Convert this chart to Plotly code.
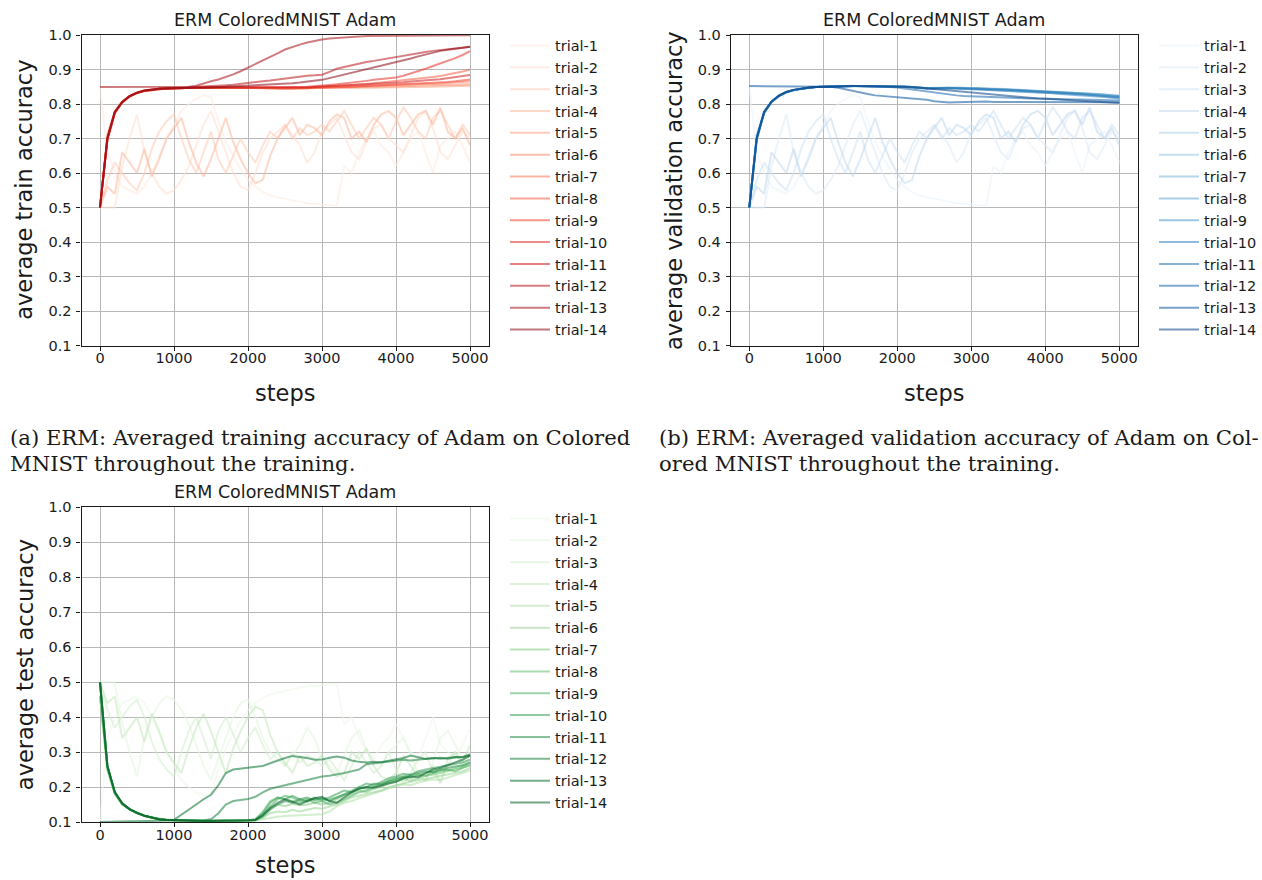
import plotly.graph_objects as go

W, H = 1262, 880

steps = list(range(0, 5001, 100))
trial_names = [f"trial-{i}" for i in range(1, 15)]
x_ticks = [0, 1000, 2000, 3000, 4000, 5000]
y_ticks = [0.1, 0.2, 0.3, 0.4, 0.5, 0.6, 0.7, 0.8, 0.9, 1.0]
y_ticktext = ["0.1", "0.2", "0.3", "0.4", "0.5", "0.6", "0.7", "0.8", "0.9", "1.0"]

# ---------------- train accuracy per trial (evaluated every 100 steps) ----------------
train_t01 = [0.85, 0.66, 0.60, 0.56, 0.55, 0.54, 0.56, 0.60, 0.65, 0.70, 0.74,
             0.78, 0.80, 0.815, 0.825, 0.82, 0.75, 0.69, 0.65, 0.61, 0.58,
             0.56, 0.545, 0.535, 0.53, 0.525, 0.52, 0.515, 0.512, 0.51, 0.508,
             0.506, 0.505, 0.62, 0.60, 0.66, 0.70, 0.72, 0.68, 0.66, 0.62,
             0.66, 0.70, 0.72, 0.66, 0.60, 0.68, 0.70, 0.72, 0.68, 0.63]
train_t02 = [0.50, 0.50, 0.50, 0.62, 0.70, 0.77, 0.66, 0.60, 0.56, 0.54, 0.55,
             0.58, 0.62, 0.68, 0.74, 0.78, 0.72, 0.66, 0.60, 0.56, 0.55,
             0.60, 0.66, 0.70, 0.72, 0.74, 0.71, 0.68, 0.63, 0.66, 0.72,
             0.74, 0.76, 0.71, 0.66, 0.64, 0.69, 0.73, 0.74, 0.70, 0.68,
             0.66, 0.71, 0.76, 0.78, 0.73, 0.66, 0.64, 0.68, 0.72, 0.70]
train_t03 = [0.50, 0.58, 0.63, 0.60, 0.57, 0.55, 0.60, 0.67, 0.72, 0.75, 0.77,
             0.70, 0.64, 0.60, 0.66, 0.72, 0.64, 0.60, 0.65, 0.70, 0.66,
             0.63, 0.68, 0.72, 0.70, 0.74, 0.70, 0.73, 0.71, 0.72, 0.74,
             0.72, 0.75, 0.78, 0.74, 0.70, 0.73, 0.76, 0.74, 0.70, 0.75,
             0.79, 0.76, 0.72, 0.70, 0.76, 0.78, 0.74, 0.70, 0.74, 0.71]
train_t04 = [0.50, 0.56, 0.54, 0.66, 0.63, 0.60, 0.67, 0.59, 0.64, 0.70, 0.73,
             0.76, 0.69, 0.63, 0.59, 0.64, 0.70, 0.76, 0.69, 0.64, 0.60,
             0.57, 0.58, 0.65, 0.70, 0.73, 0.76, 0.71, 0.74, 0.73, 0.71,
             0.75, 0.77, 0.76, 0.70, 0.72, 0.69, 0.74, 0.77, 0.78, 0.76,
             0.71, 0.74, 0.77, 0.78, 0.74, 0.79, 0.72, 0.70, 0.73, 0.68]
train_t05 = [0.50, 0.70, 0.775, 0.805, 0.822, 0.832, 0.838, 0.841, 0.843, 0.845, 0.846,
             0.847, 0.847, 0.847, 0.847, 0.847, 0.847, 0.847, 0.847, 0.847, 0.847,
             0.847, 0.846, 0.846, 0.845, 0.845, 0.845, 0.845, 0.846, 0.846, 0.846,
             0.846, 0.846, 0.846, 0.847, 0.847, 0.847, 0.847, 0.848, 0.848, 0.848,
             0.849, 0.849, 0.849, 0.850, 0.850, 0.851, 0.851, 0.852, 0.852, 0.853]
train_t06 = [0.50, 0.69, 0.772, 0.804, 0.821, 0.831, 0.837, 0.841, 0.843, 0.845, 0.846,
             0.847, 0.847, 0.848, 0.848, 0.848, 0.847, 0.847, 0.847, 0.848, 0.847,
             0.847, 0.846, 0.845, 0.845, 0.844, 0.844, 0.845, 0.846, 0.846, 0.847,
             0.847, 0.848, 0.848, 0.849, 0.849, 0.850, 0.850, 0.851, 0.851, 0.852,
             0.852, 0.853, 0.853, 0.854, 0.854, 0.855, 0.855, 0.856, 0.856, 0.857]
train_t07 = [0.50, 0.70, 0.776, 0.806, 0.822, 0.832, 0.838, 0.842, 0.844, 0.845, 0.846,
             0.847, 0.848, 0.848, 0.848, 0.847, 0.847, 0.848, 0.848, 0.848, 0.848,
             0.848, 0.847, 0.846, 0.846, 0.845, 0.846, 0.846, 0.847, 0.848, 0.848,
             0.849, 0.850, 0.851, 0.851, 0.852, 0.853, 0.853, 0.854, 0.855, 0.855,
             0.856, 0.857, 0.858, 0.859, 0.859, 0.860, 0.861, 0.862, 0.864, 0.865]
train_t08 = [0.50, 0.71, 0.778, 0.806, 0.823, 0.833, 0.839, 0.842, 0.844, 0.845, 0.846,
             0.847, 0.847, 0.848, 0.848, 0.848, 0.848, 0.848, 0.848, 0.848, 0.848,
             0.848, 0.848, 0.847, 0.847, 0.846, 0.846, 0.847, 0.848, 0.849, 0.850,
             0.851, 0.852, 0.853, 0.855, 0.856, 0.858, 0.860, 0.862, 0.864, 0.866,
             0.868, 0.870, 0.873, 0.875, 0.878, 0.881, 0.885, 0.889, 0.894, 0.900]
train_t09 = [0.50, 0.70, 0.774, 0.805, 0.822, 0.832, 0.838, 0.841, 0.843, 0.845, 0.846,
             0.847, 0.847, 0.847, 0.848, 0.848, 0.848, 0.847, 0.847, 0.848, 0.848,
             0.848, 0.847, 0.846, 0.845, 0.845, 0.844, 0.845, 0.846, 0.847, 0.847,
             0.848, 0.849, 0.849, 0.850, 0.851, 0.852, 0.853, 0.853, 0.854, 0.855,
             0.856, 0.857, 0.859, 0.860, 0.861, 0.863, 0.864, 0.866, 0.868, 0.871]
train_t10 = [0.50, 0.70, 0.776, 0.806, 0.823, 0.833, 0.839, 0.842, 0.844, 0.845, 0.846,
             0.847, 0.847, 0.848, 0.848, 0.848, 0.848, 0.848, 0.848, 0.848, 0.848,
             0.848, 0.848, 0.847, 0.847, 0.847, 0.848, 0.849, 0.850, 0.851, 0.853,
             0.855, 0.857, 0.859, 0.862, 0.865, 0.867, 0.870, 0.872, 0.874, 0.877,
             0.882, 0.888, 0.895, 0.902, 0.910, 0.917, 0.925, 0.933, 0.942, 0.953]
train_t11 = [0.50, 0.70, 0.775, 0.805, 0.822, 0.832, 0.838, 0.842, 0.844, 0.845, 0.846,
             0.847, 0.847, 0.847, 0.847, 0.848, 0.848, 0.848, 0.848, 0.848, 0.848,
             0.848, 0.848, 0.847, 0.846, 0.846, 0.846, 0.847, 0.848, 0.849, 0.850,
             0.851, 0.852, 0.853, 0.854, 0.855, 0.856, 0.857, 0.858, 0.860, 0.861,
             0.863, 0.865, 0.866, 0.868, 0.870, 0.872, 0.875, 0.877, 0.880, 0.884]
train_t12 = [0.50, 0.70, 0.776, 0.806, 0.823, 0.833, 0.839, 0.842, 0.844, 0.845, 0.846,
             0.847, 0.847, 0.848, 0.849, 0.850, 0.852, 0.854, 0.856, 0.859, 0.862,
             0.864, 0.866, 0.868, 0.871, 0.874, 0.877, 0.880, 0.882, 0.883, 0.885,
             0.893, 0.902, 0.907, 0.912, 0.918, 0.922, 0.925, 0.929, 0.933, 0.937,
             0.941, 0.945, 0.948, 0.951, 0.954, 0.957, 0.959, 0.961, 0.963, 0.966]
train_t13 = [0.849, 0.849, 0.849, 0.849, 0.849, 0.849, 0.849, 0.849, 0.849, 0.849, 0.849,
             0.849, 0.850, 0.853, 0.860, 0.866, 0.871, 0.878, 0.886, 0.895, 0.905,
             0.915, 0.925, 0.936, 0.947, 0.958, 0.966, 0.972, 0.978, 0.983, 0.987,
             0.990, 0.992, 0.994, 0.995, 0.996, 0.997, 0.997, 0.998, 0.998, 0.998,
             0.999, 0.999, 0.999, 0.999, 0.999, 0.999, 0.999, 0.999, 0.999, 0.999]
train_t14 = [0.50, 0.70, 0.777, 0.806, 0.823, 0.833, 0.839, 0.842, 0.844, 0.845, 0.846,
             0.847, 0.847, 0.847, 0.847, 0.848, 0.848, 0.849, 0.850, 0.851, 0.852,
             0.853, 0.854, 0.855, 0.856, 0.858, 0.860, 0.862, 0.864, 0.867, 0.870,
             0.875, 0.880, 0.885, 0.890, 0.895, 0.900, 0.905, 0.910, 0.915, 0.920,
             0.926, 0.932, 0.938, 0.944, 0.949, 0.954, 0.957, 0.960, 0.963, 0.966]

# ---------------- validation accuracy per trial ----------------
# the four unstable runs track their train curves step for step
val_t05 = [0.50, 0.70, 0.775, 0.806, 0.823, 0.834, 0.840, 0.844, 0.847, 0.849, 0.850,
           0.851, 0.852, 0.852, 0.852, 0.852, 0.852, 0.852, 0.852, 0.852, 0.851,
           0.850, 0.849, 0.847, 0.846, 0.846, 0.847, 0.848, 0.848, 0.847, 0.847,
           0.846, 0.845, 0.845, 0.844, 0.843, 0.842, 0.841, 0.840, 0.839, 0.838,
           0.837, 0.836, 0.835, 0.834, 0.833, 0.831, 0.830, 0.828, 0.826, 0.825]
val_t06 = [0.50, 0.69, 0.772, 0.805, 0.822, 0.833, 0.840, 0.844, 0.847, 0.849, 0.850,
           0.851, 0.851, 0.852, 0.852, 0.852, 0.851, 0.852, 0.852, 0.851, 0.851,
           0.850, 0.848, 0.846, 0.845, 0.846, 0.847, 0.847, 0.846, 0.846, 0.845,
           0.845, 0.844, 0.843, 0.843, 0.842, 0.840, 0.839, 0.838, 0.837, 0.836,
           0.835, 0.834, 0.832, 0.831, 0.830, 0.828, 0.827, 0.826, 0.824, 0.822]
val_t07 = [0.50, 0.70, 0.776, 0.807, 0.823, 0.834, 0.841, 0.845, 0.847, 0.849, 0.850,
           0.851, 0.852, 0.852, 0.853, 0.852, 0.852, 0.852, 0.852, 0.852, 0.851,
           0.851, 0.849, 0.847, 0.846, 0.846, 0.847, 0.848, 0.847, 0.847, 0.846,
           0.845, 0.845, 0.844, 0.843, 0.842, 0.841, 0.840, 0.839, 0.838, 0.837,
           0.836, 0.835, 0.834, 0.833, 0.831, 0.830, 0.829, 0.827, 0.826, 0.824]
val_t08 = [0.50, 0.71, 0.778, 0.807, 0.824, 0.835, 0.841, 0.845, 0.847, 0.849, 0.850,
           0.851, 0.852, 0.852, 0.852, 0.852, 0.852, 0.852, 0.851, 0.851, 0.851,
           0.850, 0.848, 0.846, 0.845, 0.845, 0.846, 0.846, 0.845, 0.845, 0.844,
           0.843, 0.842, 0.841, 0.840, 0.839, 0.838, 0.837, 0.836, 0.835, 0.834,
           0.833, 0.832, 0.830, 0.829, 0.827, 0.826, 0.824, 0.822, 0.820, 0.818]
val_t09 = [0.50, 0.70, 0.774, 0.806, 0.823, 0.834, 0.840, 0.844, 0.847, 0.849, 0.850,
           0.851, 0.852, 0.852, 0.852, 0.852, 0.852, 0.852, 0.852, 0.851, 0.851,
           0.850, 0.849, 0.847, 0.846, 0.847, 0.847, 0.847, 0.846, 0.846, 0.845,
           0.845, 0.844, 0.844, 0.843, 0.842, 0.841, 0.840, 0.839, 0.838, 0.837,
           0.836, 0.835, 0.834, 0.832, 0.831, 0.830, 0.828, 0.827, 0.825, 0.823]
val_t10 = [0.50, 0.70, 0.776, 0.807, 0.824, 0.835, 0.841, 0.845, 0.847, 0.849, 0.850,
           0.851, 0.852, 0.852, 0.852, 0.852, 0.852, 0.852, 0.852, 0.851, 0.851,
           0.850, 0.848, 0.846, 0.845, 0.845, 0.846, 0.846, 0.845, 0.844, 0.843,
           0.842, 0.841, 0.840, 0.839, 0.838, 0.837, 0.836, 0.835, 0.834, 0.832,
           0.831, 0.829, 0.828, 0.826, 0.825, 0.823, 0.822, 0.820, 0.818, 0.816]
val_t11 = [0.50, 0.70, 0.775, 0.806, 0.823, 0.834, 0.841, 0.845, 0.847, 0.849, 0.850,
           0.851, 0.852, 0.852, 0.852, 0.852, 0.852, 0.852, 0.852, 0.852, 0.851,
           0.850, 0.849, 0.847, 0.846, 0.846, 0.847, 0.847, 0.846, 0.846, 0.845,
           0.844, 0.843, 0.843, 0.842, 0.841, 0.840, 0.839, 0.838, 0.837, 0.836,
           0.835, 0.833, 0.832, 0.830, 0.829, 0.827, 0.826, 0.824, 0.822, 0.820]
val_t12 = [0.50, 0.70, 0.776, 0.807, 0.824, 0.835, 0.841, 0.845, 0.847, 0.849, 0.850,
           0.851, 0.852, 0.852, 0.852, 0.851, 0.851, 0.850, 0.850, 0.849, 0.848,
           0.845, 0.842, 0.838, 0.835, 0.832, 0.829, 0.827, 0.825, 0.823, 0.822,
           0.821, 0.820, 0.820, 0.819, 0.818, 0.818, 0.817, 0.816, 0.816, 0.815,
           0.815, 0.814, 0.814, 0.813, 0.813, 0.812, 0.812, 0.811, 0.811, 0.810]
val_t13 = [0.852, 0.852, 0.852, 0.852, 0.852, 0.852, 0.852, 0.852, 0.852, 0.852, 0.852,
           0.850, 0.847, 0.842, 0.837, 0.833, 0.829, 0.825, 0.823, 0.822, 0.821,
           0.819, 0.817, 0.815, 0.812, 0.808, 0.805, 0.804, 0.805, 0.806, 0.806,
           0.806, 0.807, 0.806, 0.806, 0.806, 0.807, 0.806, 0.806, 0.805, 0.806,
           0.806, 0.805, 0.806, 0.806, 0.805, 0.806, 0.805, 0.805, 0.806, 0.805]
val_t14 = [0.50, 0.70, 0.777, 0.807, 0.824, 0.835, 0.841, 0.845, 0.847, 0.849, 0.850,
           0.851, 0.852, 0.852, 0.852, 0.852, 0.852, 0.852, 0.851, 0.851, 0.851,
           0.850, 0.849, 0.847, 0.845, 0.842, 0.840, 0.838, 0.836, 0.834, 0.832,
           0.830, 0.828, 0.826, 0.824, 0.822, 0.821, 0.819, 0.818, 0.816, 0.815,
           0.814, 0.813, 0.812, 0.811, 0.810, 0.808, 0.807, 0.806, 0.804, 0.803]

# ---------------- test accuracy per trial ----------------
test_t01 = [0.10, 0.34, 0.40, 0.44, 0.45, 0.46, 0.44, 0.40, 0.35, 0.30, 0.26,
            0.22, 0.20, 0.185, 0.175, 0.18, 0.25, 0.31, 0.35, 0.39, 0.42,
            0.44, 0.455, 0.465, 0.47, 0.475, 0.48, 0.485, 0.488, 0.49, 0.492,
            0.494, 0.495, 0.38, 0.40, 0.34, 0.30, 0.28, 0.32, 0.34, 0.38,
            0.34, 0.30, 0.28, 0.34, 0.40, 0.32, 0.30, 0.28, 0.32, 0.37]
test_t02 = [0.50, 0.50, 0.50, 0.38, 0.30, 0.23, 0.34, 0.40, 0.44, 0.46, 0.45,
            0.42, 0.38, 0.32, 0.26, 0.22, 0.28, 0.34, 0.40, 0.44, 0.45,
            0.40, 0.34, 0.30, 0.28, 0.26, 0.29, 0.32, 0.37, 0.34, 0.28,
            0.26, 0.24, 0.29, 0.34, 0.36, 0.31, 0.27, 0.26, 0.30, 0.32,
            0.34, 0.29, 0.24, 0.22, 0.27, 0.34, 0.36, 0.32, 0.28, 0.30]
test_t03 = [0.50, 0.42, 0.37, 0.40, 0.43, 0.45, 0.40, 0.33, 0.28, 0.25, 0.23,
            0.30, 0.36, 0.40, 0.34, 0.28, 0.36, 0.40, 0.35, 0.30, 0.34,
            0.37, 0.32, 0.28, 0.30, 0.26, 0.30, 0.27, 0.29, 0.28, 0.26,
            0.28, 0.25, 0.22, 0.26, 0.30, 0.27, 0.24, 0.26, 0.30, 0.25,
            0.21, 0.24, 0.28, 0.30, 0.24, 0.22, 0.26, 0.30, 0.26, 0.29]
test_t04 = [0.50, 0.44, 0.46, 0.34, 0.37, 0.40, 0.33, 0.41, 0.36, 0.30, 0.27,
            0.24, 0.31, 0.37, 0.41, 0.36, 0.30, 0.24, 0.31, 0.36, 0.40,
            0.43, 0.42, 0.35, 0.30, 0.27, 0.24, 0.29, 0.26, 0.27, 0.29,
            0.25, 0.23, 0.24, 0.30, 0.28, 0.31, 0.26, 0.23, 0.22, 0.24,
            0.29, 0.26, 0.23, 0.22, 0.26, 0.21, 0.28, 0.30, 0.27, 0.32]
test_t05 = [0.46, 0.25, 0.180, 0.150, 0.135, 0.125, 0.117, 0.112, 0.108, 0.106, 0.105,
            0.104, 0.104, 0.103, 0.103, 0.103, 0.103, 0.103, 0.102, 0.102, 0.103,
            0.104, 0.108, 0.112, 0.115, 0.117, 0.118, 0.118, 0.119, 0.120, 0.122,
            0.130, 0.145, 0.155, 0.160, 0.168, 0.175, 0.183, 0.190, 0.196, 0.203,
            0.207, 0.205, 0.213, 0.218, 0.222, 0.220, 0.228, 0.234, 0.240, 0.248]
test_t06 = [0.46, 0.25, 0.182, 0.151, 0.136, 0.125, 0.118, 0.112, 0.108, 0.106, 0.105,
            0.104, 0.103, 0.103, 0.103, 0.103, 0.102, 0.102, 0.103, 0.103, 0.104,
            0.105, 0.112, 0.125, 0.130, 0.128, 0.135, 0.130, 0.135, 0.140, 0.138,
            0.145, 0.150, 0.160, 0.170, 0.175, 0.180, 0.185, 0.190, 0.200, 0.205,
            0.210, 0.215, 0.220, 0.222, 0.228, 0.232, 0.236, 0.240, 0.245, 0.255]
test_t07 = [0.50, 0.26, 0.185, 0.153, 0.137, 0.126, 0.118, 0.112, 0.108, 0.106, 0.105,
            0.104, 0.104, 0.104, 0.103, 0.103, 0.103, 0.103, 0.103, 0.104, 0.104,
            0.106, 0.118, 0.140, 0.150, 0.145, 0.152, 0.148, 0.150, 0.155, 0.150,
            0.155, 0.165, 0.175, 0.180, 0.190, 0.185, 0.195, 0.200, 0.210, 0.215,
            0.222, 0.218, 0.225, 0.232, 0.235, 0.240, 0.245, 0.250, 0.255, 0.265]
test_t08 = [0.46, 0.25, 0.181, 0.151, 0.136, 0.126, 0.118, 0.112, 0.109, 0.107, 0.105,
            0.104, 0.104, 0.103, 0.103, 0.104, 0.104, 0.103, 0.103, 0.104, 0.105,
            0.107, 0.130, 0.160, 0.170, 0.165, 0.160, 0.155, 0.162, 0.168, 0.160,
            0.165, 0.170, 0.180, 0.190, 0.200, 0.195, 0.200, 0.210, 0.215, 0.220,
            0.230, 0.225, 0.235, 0.240, 0.245, 0.250, 0.248, 0.255, 0.260, 0.270]
test_t09 = [0.50, 0.26, 0.186, 0.153, 0.137, 0.126, 0.118, 0.112, 0.108, 0.106, 0.105,
            0.104, 0.104, 0.103, 0.103, 0.103, 0.103, 0.103, 0.104, 0.104, 0.104,
            0.105, 0.120, 0.145, 0.165, 0.175, 0.170, 0.160, 0.165, 0.155, 0.160,
            0.150, 0.155, 0.165, 0.175, 0.185, 0.190, 0.200, 0.205, 0.215, 0.220,
            0.225, 0.230, 0.235, 0.232, 0.240, 0.245, 0.250, 0.245, 0.255, 0.262]
test_t10 = [0.50, 0.26, 0.185, 0.153, 0.137, 0.126, 0.118, 0.112, 0.108, 0.106, 0.105,
            0.104, 0.104, 0.104, 0.104, 0.104, 0.103, 0.103, 0.104, 0.105, 0.105,
            0.108, 0.125, 0.155, 0.170, 0.165, 0.175, 0.165, 0.158, 0.170, 0.165,
            0.170, 0.180, 0.190, 0.185, 0.200, 0.210, 0.205, 0.215, 0.225, 0.230,
            0.238, 0.235, 0.245, 0.250, 0.255, 0.258, 0.262, 0.265, 0.270, 0.278]
test_t11 = [0.50, 0.26, 0.184, 0.152, 0.136, 0.125, 0.118, 0.112, 0.108, 0.106, 0.105,
            0.104, 0.104, 0.103, 0.103, 0.103, 0.104, 0.104, 0.103, 0.104, 0.105,
            0.106, 0.115, 0.135, 0.150, 0.160, 0.155, 0.165, 0.170, 0.162, 0.168,
            0.160, 0.170, 0.178, 0.188, 0.195, 0.200, 0.210, 0.208, 0.218, 0.225,
            0.230, 0.237, 0.240, 0.245, 0.242, 0.250, 0.255, 0.258, 0.262, 0.270]
test_t12 = [0.50, 0.26, 0.185, 0.153, 0.137, 0.126, 0.118, 0.112, 0.108, 0.106, 0.105,
            0.104, 0.104, 0.104, 0.105, 0.108, 0.125, 0.150, 0.160, 0.163, 0.166,
            0.172, 0.185, 0.195, 0.200, 0.205, 0.212, 0.215, 0.220, 0.225, 0.230,
            0.232, 0.235, 0.240, 0.245, 0.250, 0.265, 0.268, 0.270, 0.272, 0.275,
            0.278, 0.276, 0.279, 0.281, 0.283, 0.281, 0.284, 0.286, 0.285, 0.290]
test_t13 = [0.100, 0.101, 0.102, 0.102, 0.102, 0.102, 0.102, 0.103, 0.103, 0.104, 0.106,
            0.120, 0.135, 0.150, 0.165, 0.178, 0.205, 0.240, 0.250, 0.253, 0.255,
            0.257, 0.260, 0.268, 0.276, 0.283, 0.289, 0.287, 0.283, 0.278, 0.279,
            0.284, 0.287, 0.284, 0.276, 0.272, 0.270, 0.272, 0.271, 0.275, 0.278,
            0.283, 0.290, 0.286, 0.280, 0.282, 0.284, 0.281, 0.285, 0.286, 0.293]
test_t14 = [0.50, 0.26, 0.186, 0.154, 0.137, 0.126, 0.118, 0.112, 0.108, 0.106, 0.105,
            0.104, 0.103, 0.103, 0.103, 0.103, 0.103, 0.104, 0.104, 0.104, 0.105,
            0.106, 0.120, 0.140, 0.155, 0.165, 0.158, 0.150, 0.160, 0.168, 0.172,
            0.160, 0.155, 0.170, 0.185, 0.195, 0.200, 0.198, 0.205, 0.210, 0.215,
            0.225, 0.230, 0.228, 0.240, 0.250, 0.255, 0.262, 0.270, 0.278, 0.290]

train_runs = [train_t01, train_t02, train_t03, train_t04, train_t05, train_t06, train_t07,
              train_t08, train_t09, train_t10, train_t11, train_t12, train_t13, train_t14]
val_runs = [train_t01, train_t02, train_t03, train_t04, val_t05, val_t06, val_t07,
            val_t08, val_t09, val_t10, val_t11, val_t12, val_t13, val_t14]
test_runs = [test_t01, test_t02, test_t03, test_t04, test_t05, test_t06, test_t07,
             test_t08, test_t09, test_t10, test_t11, test_t12, test_t13, test_t14]

# sequential colour maps (ColorBrewer 9-class ramps)
REDS = [(255, 245, 240), (254, 224, 210), (252, 187, 161), (252, 146, 114), (251, 106, 74),
        (239, 59, 44), (203, 24, 29), (165, 15, 21), (103, 0, 13)]
BLUES = [(247, 251, 255), (222, 235, 247), (198, 219, 239), (158, 202, 225), (107, 174, 214),
         (66, 146, 198), (33, 113, 181), (8, 81, 156), (8, 48, 107)]
GREENS = [(247, 252, 245), (229, 245, 224), (199, 233, 192), (161, 217, 155), (116, 196, 118),
          (65, 171, 93), (35, 139, 69), (0, 109, 44), (0, 68, 27)]
ALPHA = 0.55


def ramp(stops, t):
    pos = t * (len(stops) - 1)
    i = min(int(pos), len(stops) - 2)
    f = pos - i
    c = [round(stops[i][k] + (stops[i + 1][k] - stops[i][k]) * f) for k in range(3)]
    return f"rgba({c[0]},{c[1]},{c[2]},{ALPHA})"


def px_x(p):
    return p / W


def px_y(p):
    return 1 - p / H


FONT = "DejaVu Sans"
INK = "#1a1a1a"

# panel frames in pixels: (left, right, top, bottom) and the gap to the "steps" label
panels = [
    dict(runs=train_runs, cmap=REDS, box=(81.5, 488.5, 35, 345.5), ylab="average train accuracy",
         legend="legend", leg_xy=(505, 29.5), xlab_gap=47),
    dict(runs=val_runs, cmap=BLUES, box=(730.8, 1137.8, 35, 345.5), ylab="average validation accuracy",
         legend="legend2", leg_xy=(1154, 29.5), xlab_gap=47),
    dict(runs=test_runs, cmap=GREENS, box=(81.5, 488.5, 507.3, 822), ylab="average test accuracy",
         legend="legend3", leg_xy=(505, 502.5), xlab_gap=43),
]

fig = go.Figure()
layout = dict(width=W, height=H, margin=dict(l=0, r=0, t=0, b=0, autoexpand=False),
              paper_bgcolor="white", plot_bgcolor="white", annotations=[])


def label(text, x, y, size, family=FONT, angle=0, xanchor="center"):
    return dict(text=text, x=px_x(x), y=px_y(y), xref="paper", yref="paper",
                xanchor=xanchor, yanchor="middle", showarrow=False, textangle=angle,
                font=dict(family=family, size=size, color=INK))


for k, p in enumerate(panels):
    ax = "" if k == 0 else str(k + 1)
    for i, run in enumerate(p["runs"]):
        fig.add_trace(go.Scatter(
            x=steps, y=run, mode="lines", name=trial_names[i],
            line=dict(color=ramp(p["cmap"], (i + 1) / 15), width=2),
            xaxis="x" + ax, yaxis="y" + ax, legend=p["legend"], hoverinfo="skip",
        ))
    left, right, top, bottom = p["box"]
    common = dict(showgrid=True, gridcolor="#b8b8b8", gridwidth=1.2, zeroline=False,
                  showline=True, linecolor=INK, linewidth=1.2, mirror=True,
                  ticks="outside", ticklen=4, tickwidth=1, tickcolor=INK,
                  tickfont=dict(family=FONT, size=14.5, color=INK))
    layout["xaxis" + ax] = dict(common, domain=[px_x(left), px_x(right)], range=[-250, 5250],
                                tickvals=x_ticks, anchor="y" + ax, ticklabelstandoff=-5)
    layout["yaxis" + ax] = dict(common, domain=[px_y(bottom), px_y(top)], range=[0.1, 1.0],
                                tickvals=y_ticks, ticktext=y_ticktext, anchor="x" + ax,
                                ticklabelstandoff=2)
    lx, ly = p["leg_xy"]
    layout[p["legend"]] = dict(x=px_x(lx), y=px_y(ly), xanchor="left", yanchor="top",
                               bgcolor="rgba(0,0,0,0)", borderwidth=0, itemwidth=40,
                               font=dict(family=FONT, size=14.5, color=INK))
    cx = (left + right) / 2
    cy = (top + bottom) / 2
    layout["annotations"] += [
        label("ERM ColoredMNIST Adam", cx, top - 15, 17.5),
        label(p["ylab"], left - 57, cy, 22.5, angle=-90),
        label("steps", cx, bottom + p["xlab_gap"], 22.5),
    ]

SERIF = "DejaVu Serif"
captions = [
    ("(a) ERM: Averaged training accuracy of Adam on Colored", 8, 437),
    ("MNIST throughout the training.", 8, 464),
    ("(b) ERM: Averaged validation accuracy of Adam on Col-", 657, 437),
    ("ored MNIST throughout the training.", 657, 464),
]
for text, x0, y0 in captions:
    layout["annotations"].append(label(text, x0, y0, 21.2, family=SERIF, xanchor="left"))

fig.update_layout(**layout)
fig.write_html("out.html")
